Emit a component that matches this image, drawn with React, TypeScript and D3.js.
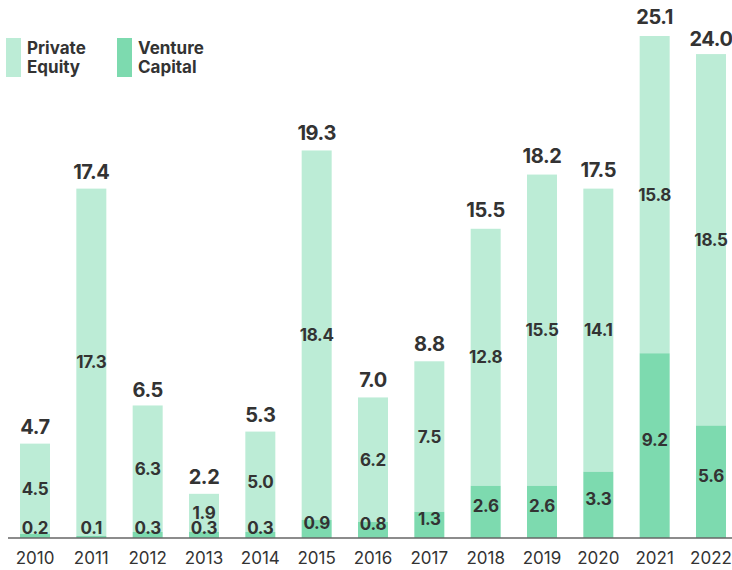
import React from "react";
import * as d3 from "d3";

const years = ["2010","2011","2012","2013","2014","2015","2016","2017","2018","2019","2020","2021","2022"];
const privateEquity = [4.5,17.3,6.3,1.9,5.0,18.4,6.2,7.5,12.8,15.5,14.1,15.8,18.5];
const ventureCapital = [0.2,0.1,0.3,0.3,0.3,0.9,0.8,1.3,2.6,2.6,3.3,9.2,5.6];
const totals = [4.7,17.4,6.5,2.2,5.3,19.3,7.0,8.8,15.5,18.2,17.5,25.1,24.0];
const seriesNames = ["Private\nEquity", "Venture\nCapital"];

const W = 732, H = 570;
const PE_COLOR = "#bcecd6";
const VC_COLOR = "#7ddaaf";
const TEXT = "#333333";
const FONT = "Inter, 'Liberation Sans', Arial, sans-serif";

export default function App() {
  const baseline = 538;
  const x = d3.scalePoint<string>().domain(years).range([35, 711]);
  const y = d3.scaleLinear().domain([0, 25.1]).range([baseline, 34]);
  const bw = 30;
  const fmt = d3.format(".1f");

  return (
    <svg width={W} height={H} style={{ position: "absolute", left: 0, top: 0, background: "#fff" }} fontFamily={FONT}>
      {years.map((yr, i) => {
        const cx = x(yr)!;
        const vcTop = y(ventureCapital[i]);
        const peTop = y(ventureCapital[i] + privateEquity[i]);
        const totTop = y(totals[i]);
        const vcMid = (baseline + vcTop) / 2;
        const peMid = (vcTop + peTop) / 2;
        return (
          <g key={yr}>
            <rect x={cx - bw / 2} y={peTop} width={bw} height={vcTop - peTop} fill={PE_COLOR} />
            <rect x={cx - bw / 2} y={vcTop} width={bw} height={baseline - vcTop} fill={VC_COLOR} />
            <text x={cx} y={peMid} textAnchor="middle" dominantBaseline="central" fontSize={17} fontWeight={700} letterSpacing={-0.3} fill={TEXT}>{fmt(privateEquity[i])}</text>
            <text x={cx} y={Math.min(vcMid - 6, baseline - 10)} textAnchor="middle" dominantBaseline="central" fontSize={17} fontWeight={700} letterSpacing={-0.3} fill={TEXT}>{fmt(ventureCapital[i])}</text>
            <text x={cx} y={totTop - 17} textAnchor="middle" dominantBaseline="central" fontSize={20} fontWeight={700} letterSpacing={-0.4} fill={TEXT}>{fmt(totals[i])}</text>
            <text x={cx} y={558} textAnchor="middle" dominantBaseline="central" fontSize={17} fill={TEXT}>{yr}</text>
          </g>
        );
      })}
      <line x1={8} x2={W} y1={baseline} y2={baseline} stroke="#666" strokeWidth={1.5} />
      {seriesNames.map((name, j) => {
        const lx = j === 0 ? 6 : 117;
        const lines = name.split("\n");
        return (
          <g key={name}>
            <rect x={lx} y={38} width={15} height={39} fill={j === 0 ? PE_COLOR : VC_COLOR} />
            {lines.map((ln, k) => (
              <text key={k} x={lx + 21} y={48 + k * 19} dominantBaseline="central" fontSize={17} fontWeight={700} fill={TEXT}>{ln}</text>
            ))}
          </g>
        );
      })}
    </svg>
  );
}
